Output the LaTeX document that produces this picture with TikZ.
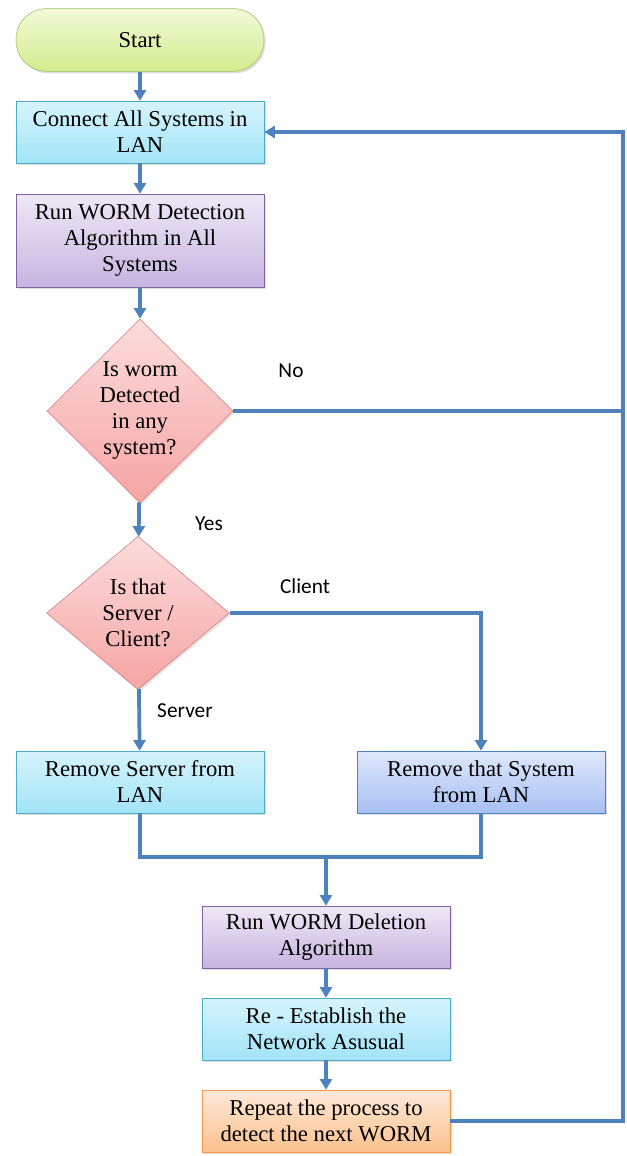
\documentclass[tikz,border=0pt]{standalone}
\usepackage{fontspec}
\setmainfont{Liberation Serif}
\newfontfamily\lblfont{Carlito}
\usepackage{tikz}
\usetikzlibrary{arrows.meta,shapes.geometric,shadows,positioning}

\definecolor{flowline}{HTML}{4F81BD}
\definecolor{cyanedge}{HTML}{4BACC6}
\definecolor{cyantop}{HTML}{D6F4FC}
\definecolor{cyanbot}{HTML}{A2E4F7}
\definecolor{purpleedge}{HTML}{8064A2}
\definecolor{purpletop}{HTML}{EEE8F6}
\definecolor{purplebot}{HTML}{C6B5E0}
\definecolor{pinkedge}{HTML}{D07A78}
\definecolor{pinktop}{HTML}{FCDCDC}
\definecolor{pinkbot}{HTML}{F5A5A4}
\definecolor{blueedge}{HTML}{4F81BD}
\definecolor{bluetop}{HTML}{DFE8FB}
\definecolor{bluebot}{HTML}{A7C0F3}
\definecolor{orangeedge}{HTML}{F79646}
\definecolor{orangetop}{HTML}{FDE9D9}
\definecolor{orangebot}{HTML}{FBC18D}
\definecolor{greenedge}{HTML}{9BBB59}
\definecolor{greentop}{HTML}{F2FAD8}
\definecolor{greenbot}{HTML}{D3EC8E}

\tikzset{
  procbox/.style={rectangle, draw, thin, align=center, inner sep=1pt,
    minimum width=186pt, minimum height=46.5pt,
    font=\fontsize{17}{19.5}\selectfont,
    drop shadow={shadow xshift=1.2pt, shadow yshift=-1.5pt, opacity=.25}},
  cyanbox/.style={procbox, draw=cyanedge, top color=cyantop, bottom color=cyanbot},
  purplebox/.style={procbox, draw=purpleedge, top color=purpletop, bottom color=purplebot},
  bluebox/.style={procbox, draw=blueedge, top color=bluetop, bottom color=bluebot},
  orangebox/.style={procbox, draw=orangeedge, top color=orangetop, bottom color=orangebot},
  startbox/.style={procbox, draw=greenedge, rounded corners=23pt, minimum height=47pt,
    top color=greentop, bottom color=greenbot},
  decision/.style={diamond, draw=pinkedge, thin, align=center, inner sep=0pt,
    font=\fontsize{17}{19.5}\selectfont, top color=pinktop, bottom color=pinkbot,
    drop shadow={shadow xshift=1.2pt, shadow yshift=-1.5pt, opacity=.2}},
  flow/.style={draw=flowline, line width=2.8pt, -{Triangle[length=8pt,width=9pt]}},
  link/.style={draw=flowline, line width=2.8pt},
  lbl/.style={font=\lblfont\fontsize{16}{18}\selectfont}
}

\begin{document}
\begin{tikzpicture}[x=0.75pt, y=-0.75pt]
\useasboundingbox (0,0) rectangle (626,1156);
% top column
\node[startbox]  (start)   at (140,40)  {Start};
\node[cyanbox]   (connect) at (140,132) {Connect All Systems in\\LAN};
\node[purplebox, minimum height=69.75pt] (detect) at (140,240.5) {Run WORM Detection\\Algorithm in All\\Systems};
\node[decision, minimum width=139.5pt, minimum height=138pt] (isworm) at (140,411) {Is worm\\Detected\\in any\\system?};
\node[decision, minimum width=137pt, minimum height=115pt] (isserver) at (138,613) {Is that\\Server /\\Client?};
% removal boxes
\node[cyanbox] (remsrv) at (140,782) {Remove Server from\\LAN};
\node[bluebox] (remsys) at (481,782) {Remove that System\\from LAN};
% bottom column
\node[purplebox] (delete)  at (326,937)  {Run WORM Deletion\\Algorithm};
\node[cyanbox]   (restore) at (326,1029) {Re - Establish the\\Network Asusual};
\node[orangebox] (repeat)  at (326,1121) {Repeat the process to\\detect the next WORM};
% labels
\node[lbl] (nolbl)     at (291,371) {No};
\node[lbl] (yeslbl)    at (209,524) {Yes};
\node[lbl] (clientlbl) at (305,586) {Client};
\node[lbl] (serverlbl) at (185,711) {Server};
% helper points
\coordinate (rail)  at (623,132);
\coordinate (merge) at (326,857);
% connectors
\draw[flow] (start) -- (connect);
\draw[flow] (connect) -- (detect);
\draw[flow] (detect) -- (isworm);
\draw[flow] (isworm) -- (isserver);
\draw[flow] (isserver.east) -| (remsys.north);
\draw[flow] (isserver) -- (remsrv);
\draw[link] (remsrv.south) |- (merge);
\draw[link] (remsys.south) |- (merge);
\draw[flow] (merge) -- (delete);
\draw[flow] (delete) -- (restore);
\draw[flow] (restore) -- (repeat);
\draw[link] (isworm.east) -- (isworm.east -| rail);
\draw[flow] (repeat.east) -- (repeat.east -| rail) -- (rail) -- (connect.east);
\end{tikzpicture}
\end{document}
